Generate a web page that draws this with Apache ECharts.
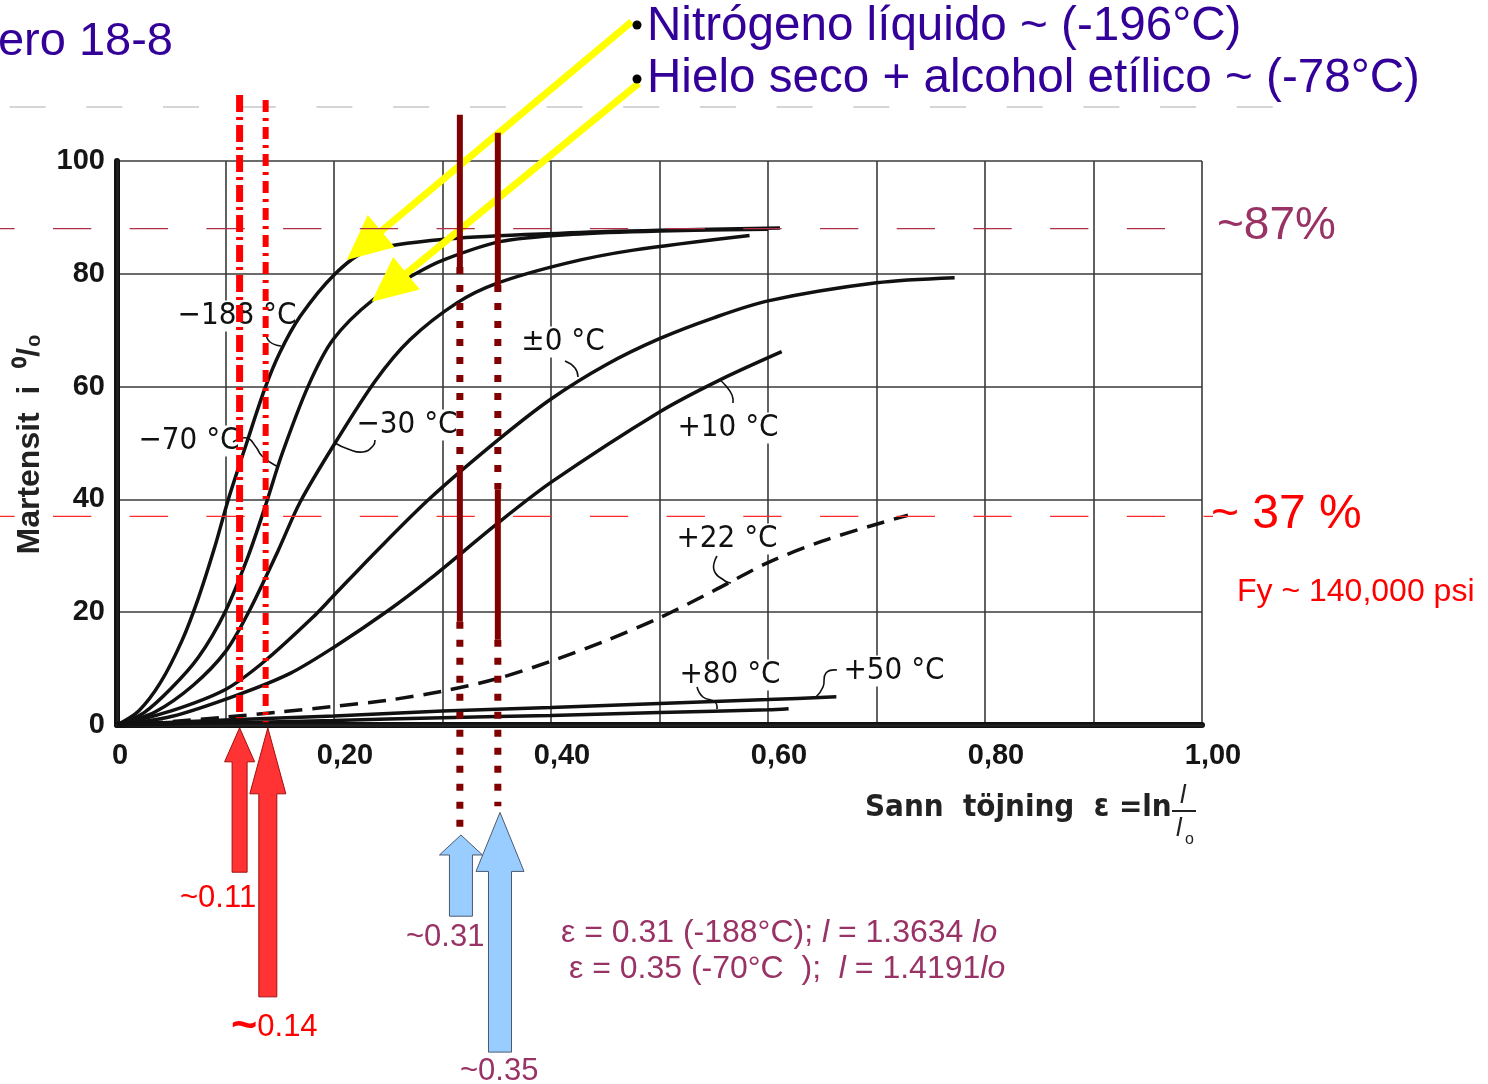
<!doctype html>
<html><head><meta charset="utf-8" />
<style>
  html,body{margin:0;padding:0;background:#ffffff}
  #chart{width:1488px;height:1084px}
</style>
<script src="https://cdn.jsdelivr.net/npm/echarts@6/dist/echarts.min.js"></script>
</head><body><div id="chart"></div>
<script>
// Martensite (%) against true strain for 18-8 steel, one curve per test temperature
const curveNames = ['−188 °C', '−70 °C', '−30 °C', '±0 °C', '+10 °C', '+22 °C', '+50 °C', '+80 °C'];
const curveM188 = [[0,0],[0.02,2.5],[0.04,7.5],[0.06,15],[0.075,22.5],[0.09,31.5],[0.1026,40],[0.1195,50],[0.136,59.5],[0.15,66],[0.169,72.5],[0.2,79.8],[0.23,84],[0.307,86.2],[0.41,87.2],[0.5,87.7],[0.611,88.1]];
const curveM70 = [[0,0],[0.025,2.2],[0.05,6.5],[0.075,12],[0.0995,20],[0.121,30],[0.137,39],[0.152,48],[0.176,60],[0.199,68.3],[0.236,75.4],[0.276,80.1],[0.3,82.4],[0.353,85.7],[0.42,87],[0.5,87.6],[0.6,87.9]];
const curveM30 = [[0,0],[0.035,2.3],[0.07,7],[0.1,13],[0.121,19.9],[0.1487,31],[0.1687,39.5],[0.201,50],[0.238,61],[0.27,68.3],[0.313,74.8],[0.35,78.3],[0.4145,81.9],[0.476,84.2],[0.583,86.8]];
const curveZero = [[0,0],[0.05,2.5],[0.1,6.3],[0.136,11.3],[0.18,19],[0.2,23],[0.24,31],[0.2885,40.2],[0.351,50.5],[0.4,57.8],[0.45,63.8],[0.5,68.5],[0.55,72.2],[0.6,75.2],[0.7,78.4],[0.772,79.3]];
const curveP10 = [[0,0],[0.05,1.5],[0.112,5.4],[0.16,9.2],[0.2,13.8],[0.25,20.3],[0.2885,25.9],[0.351,35.8],[0.4006,43.1],[0.5,55.5],[0.5558,61.2],[0.6126,66.2]];
const curveP22 = [[0,0],[0.05,0.6],[0.1,1.4],[0.15,2.3],[0.2,3.3],[0.25,4.4],[0.3,6],[0.35,8.2],[0.4,11.3],[0.45,14.9],[0.5,19],[0.55,23.8],[0.6,28.8],[0.65,32.6],[0.7,35.6],[0.729,37.2]];
const curveP50 = [[0,0],[0.1,0.9],[0.2,1.6],[0.3,2.5],[0.4,3.1],[0.5,3.8],[0.6,4.5],[0.663,5]];
const curveP80 = [[0,0],[0.1,0.4],[0.2,0.8],[0.3,1.3],[0.4,1.7],[0.5,2.2],[0.6,2.7],[0.619,2.9]];
const curves = [curveM188, curveM70, curveM30, curveZero, curveP10, curveP22, curveP50, curveP80];

// annotations (strain marks, percent levels)
const strainMarks = [0.113, 0.137, 0.316, 0.351];
const strainLabels = ['~0.11', '0.14', '~0.31', '~0.35'];
const levelLabels = ['~87%', '~ 37 %'];
const levels = [88, 37];
const dashDotSpans = [[111.7, 1.2], [110.8, 0.5]];
const solidSpans = [[[108.2, 81.2], [45.2, 18.3]], [[105, 78], [41.8, 15.1]]];
const dottedSpans = [[[81.2, 45.2], [18.3, -19.5]], [[78, 41.8], [15.1, -14.4]]];
const blockArrows = [[0.113, -0.5, -26.1], [0.139, -0.5, -48.2], [0.317, -19.5, -33.9], [0.353, -15.5, -58]];
const yellowArrows = [[0.4743, 124.7, 0.2117, 82.45], [0.4809, 113.8, 0.2347, 75.05]];

// layout: plot box in pixels, overlay grid uses the same units over the whole page
const G = { left: 117, top: 161, w: 1085, h: 564 };
const W = 1488, H = 1084;
const pxX = G.w / 1, pxY = G.h / 100;
const ovX = [-G.left / pxX, (W - G.left) / pxX];
const ovY = [-(H - G.top - G.h) / pxY, (G.top + G.h) / pxY];

const fontArial = "'Liberation Sans', Arial, sans-serif";
const fontScan = "'Liberation Sans Narrow', 'DejaVu Sans Condensed', 'Liberation Sans', sans-serif";
const purple = '#993366', navy = '#330099';

const chart = echarts.init(document.getElementById('chart'));

function txt(text, x, y, size, color, extra) {
  return { type: 'text', x: x, y: y, z: 5, style: Object.assign({
    text: text, fill: color, fontSize: size, fontFamily: fontArial, align: 'left', verticalAlign: 'middle'
  }, extra || {}) };
}
function curveLabel(text, x, y) {
  return { type: 'text', x: x, y: y, z: 1, style: {
    text: text, fill: '#111', fontSize: 31, fontFamily: fontScan, align: 'center', verticalAlign: 'middle',
    backgroundColor: '#fff', padding: [0, 2]
  } };
}
function squiggle(points) {
  return { type: 'polyline', z: 1, shape: { points: points, smooth: 0.5 }, style: { stroke: '#111', lineWidth: 1.6, fill: null } };
}
const rich = (fill, size) => ({
  n: { fill: fill, fontSize: size, fontFamily: fontArial },
  i: { fill: fill, fontSize: size, fontFamily: fontArial, fontStyle: 'italic' },
  t: { fill: fill, fontSize: size + 14, fontFamily: fontArial, fontWeight: 'bold' }
});

const graphics = [
  txt('ero 18-8', 173, 42, 47, navy, { align: 'right' }),
  { type: 'circle', z: 5, shape: { cx: 637, cy: 25, r: 4.5 }, style: { fill: '#000' } },
  { type: 'circle', z: 5, shape: { cx: 637, cy: 79, r: 4.5 }, style: { fill: '#000' } },
  txt('Nitrógeno líquido ~ (-196°C)', 647, 27, 47.6, navy),
  txt('Hielo seco + alcohol etílico ~ (-78°C)', 647, 79, 47.6, navy),
  txt(levelLabels[0], 1217, 226, 46, purple),
  txt(levelLabels[1], 1211, 515, 48, '#ff0000'),
  txt('Fy ~ 140,000 psi', 1237, 592, 32, '#ff0000'),
  txt(strainLabels[0], 180, 898, 31, '#ff0000'),
  { type: 'text', x: 231, y: 1027, z: 5, style: { text: '{t|~}{n|' + strainLabels[1] + '}', rich: rich('#ff0000', 31), verticalAlign: 'middle' } },
  txt(strainLabels[2], 406, 937, 31, purple),
  txt(strainLabels[3], 460, 1071, 31, purple),
  { type: 'text', x: 561, y: 933, z: 5, style: { text: '{n|ε = 0.31 (-188°C); }{i|l}{n| = 1.3634 }{i|lo}', rich: rich(purple, 32), verticalAlign: 'middle' } },
  { type: 'text', x: 569, y: 969, z: 5, style: { text: '{n|ε = 0.35 (-70°C  );  }{i|l}{n| = 1.4191}{i|lo}', rich: rich(purple, 32), verticalAlign: 'middle' } },
  // axis names
  { type: 'text', x: 30, y: 444, z: 5, rotation: Math.PI / 2, style: {
    text: 'Martensit  i  ⁰/₀', fill: '#222', fontSize: 32, fontWeight: 'bold', fontFamily: fontArial, align: 'center', verticalAlign: 'middle' } },
  txt('Sann  töjning  ε =ln', 865, 808, 31, '#222', { fontWeight: 'bold', fontFamily: fontScan }),
  txt('l', 1180, 796, 26, '#222', { fontStyle: 'italic', fontFamily: fontArial }),
  { type: 'line', z: 5, shape: { x1: 1172, y1: 811, x2: 1196, y2: 811 }, style: { stroke: '#222', lineWidth: 2 } },
  txt('l', 1176, 829, 26, '#222', { fontStyle: 'italic', fontFamily: fontArial }),
  txt('o', 1185, 840, 16, '#222', { fontFamily: fontArial }),
  // curve labels
  curveLabel(curveNames[0], 237, 316),
  curveLabel(curveNames[1], 189, 441),
  curveLabel(curveNames[2], 407, 425),
  curveLabel(curveNames[3], 563, 342),
  curveLabel(curveNames[4], 728, 428),
  curveLabel(curveNames[5], 727, 539),
  curveLabel(curveNames[7], 730, 675),
  curveLabel(curveNames[6], 894, 671),
  squiggle([[266, 334], [270, 342], [281, 346]]),
  squiggle([[233, 442], [247, 438], [256, 447], [262, 456], [278, 467]]),
  squiggle([[335, 443], [348, 449], [363, 452], [373, 446], [375, 440]]),
  squiggle([[565, 361], [575, 368], [578, 377]]),
  squiggle([[720, 380], [726, 386], [732, 395], [733, 403]]),
  squiggle([[717, 556], [714, 570], [725, 581], [731, 583]]),
  squiggle([[697, 687], [703, 697], [715, 702], [717, 709]]),
  squiggle([[837, 670], [826, 673], [823, 687], [816, 697]])
];

const curveSeries = curves.map((d, i) => ({
  name: curveNames[i], type: 'line', data: d, xAxisIndex: 0, yAxisIndex: 0,
  symbol: 'none', smooth: 0.3, z: 3,
  lineStyle: { color: '#111', width: 3.5, type: i === 5 ? [18, 10] : 'solid' }
}));

function ovLine(data, color, width, type, offset) {
  return { type: 'line', data: data, xAxisIndex: 2, yAxisIndex: 2, symbol: 'none', silent: true, z: 4,
    lineStyle: { color: color, width: width, type: type || 'solid', dashOffset: offset || 0, cap: 'butt' } };
}

const overlay = [
  ovLine([[(9.6 - G.left) / pxX, (G.top + G.h - 107) / pxY], [(1274 - G.left) / pxX, (G.top + G.h - 107) / pxY]], '#c8c8c8', 1.5, [36, 40.7]),
  ovLine([[ovX[0], levels[0]], [(1165 - G.left) / pxX, levels[0]]], '#b03048', 1.3, [38.3, 38.4], 23.7),
  ovLine([[ovX[0], levels[1]], [(1213 - G.left) / pxX, levels[1]]], '#ff2a2a', 1.2, [38.3, 38.4], 23.7),
  ovLine([[strainMarks[0], dashDotSpans[0][0]], [strainMarks[0], dashDotSpans[0][1]]], '#ff0000', 7, [17, 5, 3, 5]),
  ovLine([[strainMarks[1], dashDotSpans[1][0]], [strainMarks[1], dashDotSpans[1][1]]], '#ff0000', 6, [12, 6, 3, 6])
];
[0, 1].forEach(k => {
  const x = strainMarks[k + 2];
  solidSpans[k].forEach(s => overlay.push(ovLine([[x, s[0]], [x, s[1]]], '#800000', 6)));
  dottedSpans[k].forEach(s => overlay.push(ovLine([[x, s[0]], [x, s[1]]], '#800000', 7, [7, 11])));
});

// block arrows under the strain axis: head length, head width, shaft width, fill, stroke
const arrowLook = [[34, 30, 15, '#ff3333', '#a01010'], [66, 36, 18, '#ff3333', '#a01010'], [20, 43, 23, '#99ccff', '#4a5a70'], [59, 48, 23, '#99ccff', '#4a5a70']];
overlay.push({
  type: 'custom', xAxisIndex: 2, yAxisIndex: 2, data: blockArrows, silent: true, z: 4, clip: false,
  renderItem: function (params, api) {
    const look = arrowLook[params.dataIndex];
    const tip = api.coord([api.value(0), api.value(1)]);
    const bot = api.coord([api.value(0), api.value(2)]);
    const cx = tip[0], hb = tip[1] + look[0], hw = look[1] / 2, sw = look[2] / 2;
    return { type: 'polygon', shape: { points: [[cx, tip[1]], [cx + hw, hb], [cx + sw, hb], [cx + sw, bot[1]], [cx - sw, bot[1]], [cx - sw, hb], [cx - hw, hb]] },
      style: { fill: look[3], stroke: look[4], lineWidth: 1 } };
  }
});
overlay.push({
  type: 'custom', xAxisIndex: 2, yAxisIndex: 2, data: yellowArrows, silent: true, z: 4, clip: false,
  renderItem: function (params, api) {
    const p0 = api.coord([api.value(0), api.value(1)]);
    const p1 = api.coord([api.value(2), api.value(3)]);
    const dx = p1[0] - p0[0], dy = p1[1] - p0[1], len = Math.hypot(dx, dy);
    const ux = dx / len, uy = dy / len, nx = -uy, ny = ux, hl = 45, hw = 21;
    const bx = p1[0] - ux * hl, by = p1[1] - uy * hl;
    return { type: 'group', children: [
      { type: 'line', shape: { x1: p0[0], y1: p0[1], x2: bx + ux * 2, y2: by + uy * 2 }, style: { stroke: '#ffff00', lineWidth: 7 } },
      { type: 'polygon', shape: { points: [[p1[0], p1[1]], [bx + nx * hw, by + ny * hw], [bx - nx * hw, by - ny * hw]] }, style: { fill: '#ffff00' } }
    ] };
  }
});

const tickFont = { fontSize: 29, fontWeight: 'bold', fontFamily: fontArial, color: '#151515' };
const option = {
  backgroundColor: '#ffffff',
  animation: false,
  grid: [
    { left: G.left, top: G.top, width: G.w, height: G.h },
    { left: 0, top: 0, width: W, height: H }
  ],
  xAxis: [
    { type: 'value', gridIndex: 0, min: 0, max: 1, interval: 0.1,
      axisLine: { onZero: false, lineStyle: { color: '#111', width: 6 } }, axisTick: { show: false },
      splitLine: { lineStyle: { color: '#3a3a3a', width: 1.6 } },
      axisLabel: Object.assign({}, tickFont, { margin: 16,
        formatter: function (v) {
          const k = Math.round(v * 10);
          if (k % 2) return '';
          return k === 0 ? '{z|0}' : '{n|' + (k / 10).toFixed(2).replace('.', ',') + '}';
        },
        rich: { z: Object.assign({ padding: [0, 0, 0, 6] }, tickFont), n: Object.assign({ padding: [0, 0, 0, 22] }, tickFont) } }) },
    { type: 'value', gridIndex: 0, position: 'top', min: 0, max: 1,
      axisLine: { lineStyle: { color: '#222', width: 2.5 } }, axisTick: { show: false }, axisLabel: { show: false }, splitLine: { show: false } },
    { type: 'value', gridIndex: 1, min: ovX[0], max: ovX[1], show: false }
  ],
  yAxis: [
    { type: 'value', gridIndex: 0, min: 0, max: 100, interval: 20,
      axisLine: { show: true, onZero: false, lineStyle: { color: '#111', width: 6 } }, axisTick: { show: false },
      splitLine: { lineStyle: { color: '#3a3a3a', width: 1.6 } },
      axisLabel: Object.assign({ margin: 12 }, tickFont) },
    { type: 'value', gridIndex: 0, position: 'right', min: 0, max: 100,
      axisLine: { show: true, lineStyle: { color: '#222', width: 2.5 } }, axisTick: { show: false }, axisLabel: { show: false }, splitLine: { show: false } },
    { type: 'value', gridIndex: 1, min: ovY[0], max: ovY[1], show: false }
  ],
  graphic: { elements: graphics },
  series: curveSeries.concat(overlay)
};
chart.setOption(option);
</script></body></html>
